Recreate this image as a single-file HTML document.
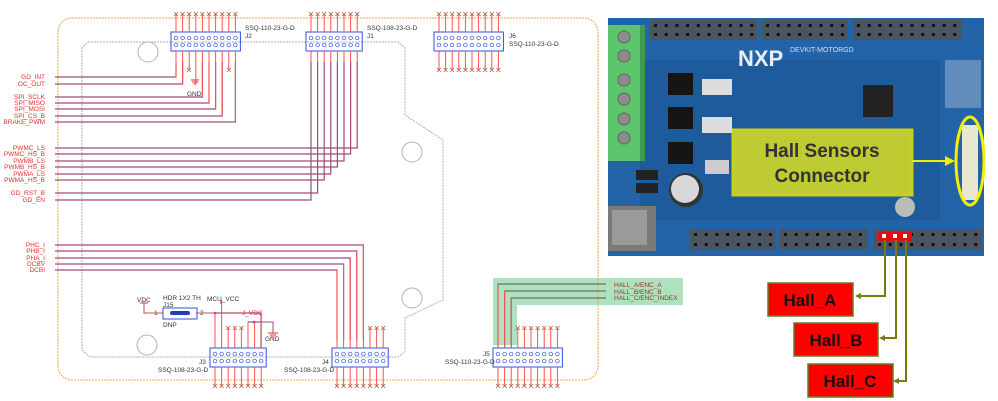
<!DOCTYPE html>
<html><head><meta charset="utf-8"><style>
html,body{margin:0;padding:0;background:#fff;width:998px;height:401px;overflow:hidden}
svg{display:block}
text{font-family:"Liberation Sans",sans-serif}
</style></head><body>
<svg id="s" width="998" height="401" viewBox="0 0 998 401" xmlns="http://www.w3.org/2000/svg">
<path d="M493 278 H683 V305 H517 V345 H493 Z" fill="#9fdcb5" opacity="0.85"/>
<rect x="58" y="18" width="540" height="362" rx="14" fill="none" stroke="#f7a640" stroke-width="1" stroke-dasharray="2,1"/>
<path d="M88 42 H398 L405 48 V115 L443 140 V300 L405 318 V352 L398 357 H90 L82 350 V48 Z" fill="none" stroke="#a8acc8" stroke-width="1" stroke-dasharray="2,1"/>
<circle cx="148" cy="52" r="10" fill="none" stroke="#b0b0c0"/>
<circle cx="412" cy="152" r="10" fill="none" stroke="#b0b0c0"/>
<circle cx="412" cy="298" r="10" fill="none" stroke="#b0b0c0"/>
<circle cx="147" cy="345" r="10" fill="none" stroke="#b0b0c0"/>
<g id="wires" stroke="#a04a7a" stroke-width="1.2" fill="none"></g>
<g id="pins"></g>
<g font-size="6.5" fill="#e03030" text-anchor="end">
<text x="45" y="79">GD_INT</text><text x="45" y="86">OC_OUT</text>
<text x="45" y="99">SPI_SCLK</text><text x="45" y="105">SPI_MISO</text><text x="45" y="111">SPI_MOSI</text><text x="45" y="118">SPI_CS_B</text><text x="45" y="124">BRAKE_PWM</text>
<text x="45" y="150">PWMC_LS</text><text x="45" y="156">PWMC_HS_B</text><text x="45" y="163">PWMB_LS</text><text x="45" y="169">PWMB_HS_B</text><text x="45" y="176">PWMA_LS</text><text x="45" y="182">PWMA_HS_B</text>
<text x="45" y="195">GD_RST_B</text><text x="45" y="202">GD_EN</text>
<text x="45" y="247">PHC_I</text><text x="45" y="253">PHB_I</text><text x="45" y="260">PHA_I</text><text x="45" y="266">DCBV</text><text x="45" y="272">DCBI</text>
</g>
<g font-size="6.5" fill="#333">
<text x="245" y="30">SSQ-110-23-G-D</text><text x="245" y="38">J2</text>
<text x="367" y="30">SSQ-108-23-G-D</text><text x="367" y="38">J1</text>
<text x="509" y="38">J6</text><text x="509" y="46">SSQ-110-23-G-D</text>
<text x="199" y="364">J3</text><text x="158" y="372">SSQ-108-23-G-D</text>
<text x="322" y="364">J4</text><text x="284" y="372">SSQ-108-23-G-D</text>
<text x="483" y="356">J5</text><text x="445" y="364">SSQ-110-23-G-D</text>
<text x="187" y="96">GND</text><text x="265" y="341">GND</text>
<text x="137" y="302">VDC</text><text x="163" y="300">HDR 1X2 TH</text><text x="163" y="307">J15</text><text x="163" y="327">DNP</text>
<text x="207" y="301">MCU_VCC</text><text x="154" y="315">1</text><text x="200" y="315">2</text>
<text x="614" y="287" fill="#a03020">HALL_A/ENC_A</text><text x="614" y="294" fill="#a03020">HALL_B/ENC_B</text><text x="614" y="300" fill="#a03020">HALL_C/ENC_INDEX</text>
</g>
<text x="242" y="315" font-size="6.5" fill="#e03030">J_VDC</text>
<path d="M144 303 V313 H163 M196 313 H244" stroke="#c05050" fill="none"/>
<rect x="163" y="308" width="34" height="11" fill="none" stroke="#3050e0"/>
<rect x="170" y="311" width="20" height="4" rx="2" fill="#2040c0"/>
<path d="M140 303 H148" stroke="#e03030"/>
<path d="M191 80 H199 M192 82 H198 M193.5 84 H196.5" stroke="#e03030"/>
<path d="M268 333 H278 M270 335 H276 M271.5 337 H274.5" stroke="#e03030"/>
<path d="M253 322 H273 V333" stroke="#a04a7a" fill="none"/>
<!-- board photo -->
<g>
<rect x="608" y="18" width="376" height="238" fill="#2364a8"/>
<rect x="640" y="60" width="300" height="160" fill="#1a5596" opacity="0.6"/>
<g id="hdr"></g>
<rect x="608" y="25" width="37" height="136" fill="#5cc46a"/>
<rect x="640" y="25" width="5" height="136" fill="#3e9a4c"/>
<g fill="#8c8c8c" stroke="#666"><circle cx="624" cy="37" r="6"/><circle cx="624" cy="56" r="6"/><circle cx="624" cy="80" r="6"/><circle cx="624" cy="99" r="6"/><circle cx="624" cy="119" r="6"/><circle cx="624" cy="138" r="6"/></g>
<rect x="608" y="206" width="48" height="45" fill="#7a7a7a"/>
<rect x="612" y="210" width="35" height="35" fill="#9a9a9a"/>
<circle cx="686" cy="190" r="17" fill="#333"/><circle cx="685" cy="189" r="14" fill="#d8d8d8"/>
<rect x="863" y="85" width="30" height="32" fill="#222"/>
<rect x="668" y="73" width="25" height="22" fill="#151515"/><rect x="668" y="107" width="25" height="22" fill="#151515"/><rect x="668" y="142" width="25" height="22" fill="#151515"/>
<rect x="702" y="79" width="30" height="16" fill="#ddd"/><rect x="702" y="117" width="30" height="16" fill="#ddd"/><rect x="705" y="160" width="24" height="14" fill="#ccc"/>
<rect x="636" y="170" width="22" height="10" fill="#222"/><rect x="636" y="183" width="22" height="10" fill="#222"/>
<circle cx="905" cy="207" r="10" fill="#bbb"/>
<text x="738" y="66" font-size="22" font-weight="bold" fill="#e8eef5">NXP</text>
<text x="790" y="52" font-size="7" fill="#dde">DEVKIT-MOTORGD</text>
<rect x="945" y="60" width="36" height="48" fill="#8aa6c8" opacity="0.6"/>
<rect x="733" y="130" width="179" height="65" fill="#e8e818" opacity="0.8" stroke="#f0f000" stroke-width="3"/>
<text x="822" y="157" font-size="19" font-weight="bold" fill="#333" text-anchor="middle">Hall Sensors</text>
<text x="822" y="182" font-size="19" font-weight="bold" fill="#333" text-anchor="middle">Connector</text>
<path d="M912 161 H945" stroke="#f0f000" stroke-width="2"/><path d="M945 156 L955 161 L945 166 Z" fill="#f0f000"/>
<rect x="962" y="125" width="16" height="75" fill="#e8e8d0"/>
<ellipse cx="970" cy="161" rx="14" ry="44" fill="none" stroke="#f0f000" stroke-width="3"/>
<rect x="878" y="232" width="34" height="9" fill="#e01010"/>
<rect x="882" y="234" width="4" height="4" fill="#fff"/><rect x="893" y="234" width="4" height="4" fill="#fff"/><rect x="903" y="234" width="4" height="4" fill="#fff"/>
</g>
<path d="M885 240 V296 H860 M896 240 V338 H884 M906 240 V381 H897" stroke="#7a7a10" stroke-width="2" fill="none"/>
<path d="M855 296 l6 -3 v6z M879 338 l6 -3 v6z M893 381 l6 -3 v6z" fill="#7a7a10"/>
<rect x="768" y="283" width="85" height="33" fill="#ff0000" stroke="#6a7a20" stroke-width="1.5"/>
<rect x="794" y="323" width="84" height="33" fill="#ff0000" stroke="#6a7a20" stroke-width="1.5"/>
<rect x="808" y="364" width="85" height="33" fill="#ff0000" stroke="#6a7a20" stroke-width="1.5"/>
<g font-size="17" font-weight="bold" fill="#111" text-anchor="middle">
<text x="810" y="306">Hall_A</text><text x="836" y="346">Hall_B</text><text x="850" y="387">Hall_C</text>
</g>
</svg>
<script>
var NS="http://www.w3.org/2000/svg",P=document.getElementById('pins'),W=document.getElementById('wires'),H=document.getElementById('hdr');
function el(g,t,a){var e=document.createElementNS(NS,t);for(var k in a)e.setAttribute(k,a[k]);g.appendChild(e);return e;}
function hdr(x,y,w,h){el(H,'rect',{x:x,y:y,width:w,height:h,fill:'#4a5562'});var n=Math.round(w/10.7);
 for(var i=0;i<n;i++){el(H,'rect',{x:x+4+i*10.7,y:y+4,width:3,height:3,fill:'#111'});el(H,'rect',{x:x+4+i*10.7,y:y+h-7,width:3,height:3,fill:'#111'});}}
hdr(650,20,107,20);hdr(762,20,86,20);hdr(853,20,109,20);
hdr(690,229,85,21);hdr(780,229,88,21);hdr(874,229,108,21);
function X(x,y){el(P,'path',{d:'M'+(x-2)+' '+(y-2)+'L'+(x+2)+' '+(y+2)+'M'+(x+2)+' '+(y-2)+'L'+(x-2)+' '+(y+2),stroke:'#b06040','stroke-width':0.8});}
function conn(x0,n,yb,top,bot){
 var st=6.6;
 el(P,'rect',{x:x0-5,y:yb,width:(n-1)*st+10,height:19,fill:'none',stroke:'#3050e0'});
 for(var i=0;i<n;i++){var x=x0+i*st;
  el(P,'line',{x1:x,y1:yb,x2:x,y2:top[i],stroke:'#ff5050','stroke-width':1});
  el(P,'line',{x1:x,y1:yb+19,x2:x,y2:bot[i],stroke:'#ff5050','stroke-width':1});
  el(P,'circle',{cx:x,cy:yb+6,r:1.8,fill:'#fff',stroke:'#3050e0','stroke-width':0.7});
  el(P,'circle',{cx:x,cy:yb+13,r:1.8,fill:'#fff',stroke:'#3050e0','stroke-width':0.7});
 }
}
function fill(n,v){var a=[];for(var i=0;i<n;i++)a.push(v);return a;}
function wire(d,c){el(W,'path',{d:d,stroke:c||'#a04a7a'});}
conn(176,10,32,fill(10,14),[77,84,70,84,97,103,109,116,70,122]);
for(var i=0;i<10;i++)X(176+i*6.6,14);X(189,70);X(229,70);
[[0,77],[1,84],[4,97],[5,103],[6,109],[7,116],[9,122]].forEach(function(p){var x=176+p[0]*6.6;wire('M55 '+p[1]+'H'+x+'V62');});
conn(311,8,32,fill(8,14),fill(8,62));
for(var i=0;i<8;i++)X(311+i*6.6,14);
var ys=[148,154,161,167,174,180,193,200];
for(var i=0;i<8;i++){var x=311+(7-i)*6.6;wire('M55 '+ys[i]+'H'+x+'V62');}
conn(439,10,32,fill(10,14),fill(10,70));
for(var i=0;i<10;i++){X(439+i*6.6,14);X(439+i*6.6,70);}
var ph=[245,251,258,264,270];
conn(337,8,348,[270,264,258,251,245,328,328,328],fill(8,386));
for(var i=0;i<5;i++){var x=337+i*6.6;wire('M55 '+ph[4-i]+'H'+x+'V340');}
for(var i=5;i<8;i++)X(337+i*6.6,328);
for(var i=0;i<8;i++)X(337+i*6.6,386);
conn(215,8,348,[313,300,328,328,328,322,322,316],fill(8,386));
for(var i=2;i<5;i++)X(215+i*6.6,328);
for(var i=0;i<8;i++)X(215+i*6.6,386);
wire('M248 322H261');wire('M215 313H261V348');
el(P,'circle',{cx:215,cy:313,r:1.3,fill:'#e020e0'});el(P,'circle',{cx:254,cy:322,r:1.3,fill:'#e020e0'});
el(P,'path',{d:'M221 300V304',stroke:'#e03030'});
conn(498,10,348,[284,291,298,328,328,328,328,328,328,328],fill(10,386));
for(var i=3;i<10;i++)X(498+i*6.6,328);
for(var i=0;i<10;i++)X(498+i*6.6,386);
for(var i=0;i<3;i++){var x=498+i*6.6,y=284+i*7;el(W,'path',{d:'M'+x+' 348V'+y+'H606',stroke:'#707070'});}
</script>
</body></html>
